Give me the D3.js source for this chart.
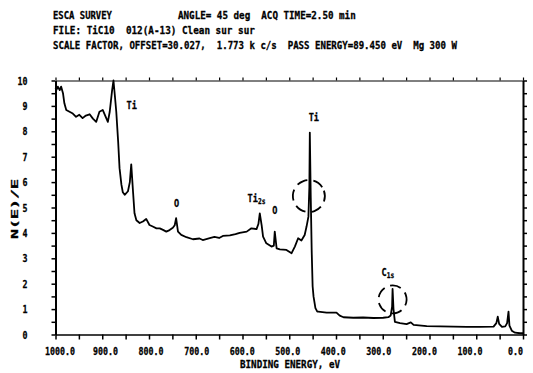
<!DOCTYPE html>
<html>
<head>
<meta charset="utf-8">
<script src="https://cdn.jsdelivr.net/npm/d3@7"></script>
<style>
  html, body { margin: 0; padding: 0; background: #fff; }
  svg { display: block; }
  text {
    font-family: "DejaVu Sans Mono", "Liberation Mono", monospace;
    font-weight: bold;
    font-size: 11px;
    fill: #000;
    stroke: #000;
    stroke-width: 0.3px;
    white-space: pre;
  }
</style>
</head>
<body>
<svg id="chart" width="533" height="373"></svg>
<script>
// ESCA survey spectrum: binding energy (eV) against N(E)/E counts
const bindingEnergy = [
  1000, 998, 995, 991, 988, 984, 981, 977, 970, 963, 956, 949, 942, 935, 927, 920,
  913, 906, 899, 891, 888, 884, 879, 876, 873, 870, 866, 863, 859, 856, 852, 845,
  841, 838, 834, 831, 827, 820, 813, 806, 799, 792, 784, 777, 770, 763, 756, 749,
  745, 742, 738, 731, 720, 706, 692, 685, 670, 660, 650, 642, 627, 615, 606, 591,
  581, 570, 566, 563, 559, 556, 549, 538, 533, 531, 527, 520, 506, 495, 488, 481,
  474, 467, 463, 459, 457, 456, 454, 452, 450, 448, 444, 440, 438, 420, 399, 392,
  384, 363, 342, 320, 299, 288, 283, 280, 279, 277, 274, 263, 249, 240, 234, 206,
  177, 149, 120, 92, 63, 57, 54, 51, 45, 38, 34, 31, 29, 24, 17, 6, 0
];
const intensity = [
  9.72, 9.63, 9.76, 9.62, 9.76, 9.50, 9.10, 8.84, 8.77, 8.70, 8.57, 8.65, 8.52, 8.62, 8.67, 8.50,
  8.37, 8.77, 8.84, 8.50, 8.37, 8.77, 9.60, 10.0, 9.40, 8.77, 7.60, 6.55, 5.90, 5.60, 5.50, 5.64,
  6.00, 6.70, 5.58, 4.77, 4.50, 4.39, 4.45, 4.55, 4.31, 4.25, 4.18, 4.18, 4.12, 4.05, 4.11, 4.20,
  4.30, 4.58, 4.05, 3.92, 3.83, 3.75, 3.78, 3.72, 3.79, 3.84, 3.80, 3.88, 3.90, 3.95, 4.00, 4.05,
  4.18, 4.15, 4.35, 4.77, 4.30, 3.85, 3.59, 3.46, 3.50, 4.05, 3.39, 3.35, 3.33, 3.20, 3.46, 3.79,
  3.70, 3.92, 4.25, 4.64, 5.80, 7.95, 5.40, 3.30, 1.90, 1.49, 1.04, 0.90, 0.90, 0.86, 0.86, 0.74,
  0.68, 0.66, 0.67, 0.65, 0.66, 0.68, 0.75, 1.10, 1.80, 1.00, 0.50, 0.45, 0.41, 0.48, 0.38, 0.33,
  0.32, 0.31, 0.30, 0.30, 0.31, 0.45, 0.70, 0.42, 0.30, 0.32, 0.45, 0.90, 0.35, 0.15, 0.07, 0.05, 0.05
];

// Axis ticks and labels
const xTickValues = d3.range(0, 1001, 50);
const xLabelValues = [1000, 900, 800, 700, 600, 500, 400, 300, 200, 100, 0];
const yTickValues = d3.range(0, 10.01, 0.5);
const yLabelValues = [0, 1, 2, 3, 4, 5, 6, 7, 8, 9, 10];
const xTitle = "BINDING ENERGY, eV";
const yTitle = "N(E)/E";

// Acquisition header
const headerLeft = [
  "ESCA SURVEY",
  "FILE: TiC10  012(A-13) Clean sur sur",
  "SCALE FACTOR, OFFSET=30.027,  1.773 k c/s  PASS ENERGY=89.450 eV  Mg 300 W"
];
const headerRight = "ANGLE= 45 deg  ACQ TIME=2.50 min";

// Peak assignments (label anchor in binding energy / intensity)
const peakNames = ["Ti", "O", "Ti", "O", "Ti", "C"];
const peakSubs = ["", "", "2s", "", "", "1s"];
const peakLabelBE = [837, 741, 570, 531, 447.5, 289];
const peakLabelLevel = [9.04, 5.18, 5.38, 4.9, 8.57, 2.46];

// Peaks ringed by hand
const ringBE = [458, 279];
const ringLevel = [5.45, 1.38];
const ringRadius = [16, 14];

const W = 533, H = 373;
const svg = d3.select("#chart");
svg.append("rect").attr("width", W).attr("height", H).attr("fill", "#fff");

const x = d3.scaleLinear().domain([1000, 0]).range([55.5, 523]);
const y = d3.scaleLinear().domain([0, 10]).range([334.5, 80.5]);

function squeeze(sel, adv) {
  sel.each(function () {
    const s = this.textContent;
    if (s && s.length) {
      d3.select(this)
        .attr("textLength", s.length * adv)
        .attr("lengthAdjust", "spacingAndGlyphs");
    }
  });
}

// Header: narrow plotter lettering, each line scaled to its printed width
function narrowLine(str, x0, yBase, width) {
  const g = svg.append("g");
  const t = g.append("text").attr("x", 0).attr("y", 0).text(str);
  const natural = t.node().getComputedTextLength();
  g.attr("transform", `translate(${x0},${yBase}) scale(${width / natural},1)`);
}
const headerWidths = [59, 202, 404];
headerLeft.forEach((t, i) => narrowLine(t, 53, 19 + i * 15, headerWidths[i]));
narrowLine(headerRight, 178, 19, 178);

// Axes
function cleanAxis(g) {
  g.attr("font-family", null).attr("font-size", null).attr("color", "#000");
}

const axisB = svg.append("g")
  .attr("transform", `translate(0,${y(0)})`)
  .call(d3.axisBottom(x).tickValues(xTickValues).tickSize(5).tickSizeOuter(0).tickPadding(8)
    .tickFormat(d => xLabelValues.includes(d) ? d.toFixed(1) : ""));
cleanAxis(axisB);
axisB.select(".domain").attr("stroke-width", 1.5);
axisB.selectAll(".tick line").attr("stroke-width", 1.5);
squeeze(axisB.selectAll(".tick text"), 5);
// the plotter's label pitch is a little tighter than the tick pitch
axisB.selectAll(".tick text").attr("dx", d => 4 - 12 * (1000 - d) / 1000);

const axisT = svg.append("g")
  .attr("transform", `translate(0,${y(10)})`)
  .call(d3.axisTop(x).tickValues(xTickValues).tickSize(3).tickSizeOuter(0).tickFormat(""));
cleanAxis(axisT);
axisT.selectAll(".tick line").attr("stroke-width", 1.2);

const axisL = svg.append("g")
  .attr("transform", `translate(${x(1000)},0)`)
  .call(d3.axisLeft(y).tickValues(yTickValues).tickSize(4).tickSizeOuter(0).tickPadding(24)
    .tickFormat(d => yLabelValues.includes(d) ? String(d) : ""));
cleanAxis(axisL);
axisL.select(".domain").attr("stroke-width", 2);
axisL.selectAll(".tick line").attr("stroke-width", 1.5);
squeeze(axisL.selectAll(".tick text"), 5);

const axisR = svg.append("g")
  .attr("transform", `translate(${x(0)},0)`)
  .call(d3.axisRight(y).tickValues(yTickValues).tickSize(4).tickSizeOuter(0).tickFormat(""));
cleanAxis(axisR);
axisR.select(".domain").attr("stroke-width", 2);
axisR.selectAll(".tick line").attr("stroke-width", 1.5);

// Axis titles
svg.append("text")
  .attr("x", 290).attr("y", 368)
  .attr("text-anchor", "middle")
  .attr("textLength", 100).attr("lengthAdjust", "spacingAndGlyphs")
  .text(xTitle);

svg.append("text")
  .attr("transform", "translate(17.5,209) rotate(-90)")
  .attr("text-anchor", "middle")
  .style("font-size", "9px")
  .attr("textLength", 60).attr("lengthAdjust", "spacingAndGlyphs")
  .text(yTitle);

// Spectrum
const pts = d3.zip(bindingEnergy, intensity);
svg.append("path")
  .datum(pts)
  .attr("fill", "none")
  .attr("stroke", "#000")
  .attr("stroke-width", 1.8)
  .attr("stroke-linejoin", "round")
  .attr("d", d3.line().x(d => x(d[0])).y(d => y(d[1])));

// Peak labels
peakNames.forEach((name, i) => {
  const g = svg.append("g")
    .attr("transform", `translate(${x(peakLabelBE[i])},${y(peakLabelLevel[i]) + 4}) scale(0.78,1)`);
  const t = g.append("text").attr("text-anchor", "middle");
  t.append("tspan").text(name);
  if (peakSubs[i]) {
    t.append("tspan").attr("dy", 2).style("font-size", "8px").text(peakSubs[i]);
  }
});

// Dashed rings around the marked peaks
ringBE.forEach((be, i) => {
  svg.append("circle")
    .attr("cx", x(be)).attr("cy", y(ringLevel[i]))
    .attr("r", ringRadius[i])
    .attr("fill", "none")
    .attr("stroke", "#000")
    .attr("stroke-width", 1.8)
    .attr("stroke-dasharray", "11,6")
    .attr("transform", `rotate(-20,${x(be)},${y(ringLevel[i])})`);
});
</script>
</body>
</html>
